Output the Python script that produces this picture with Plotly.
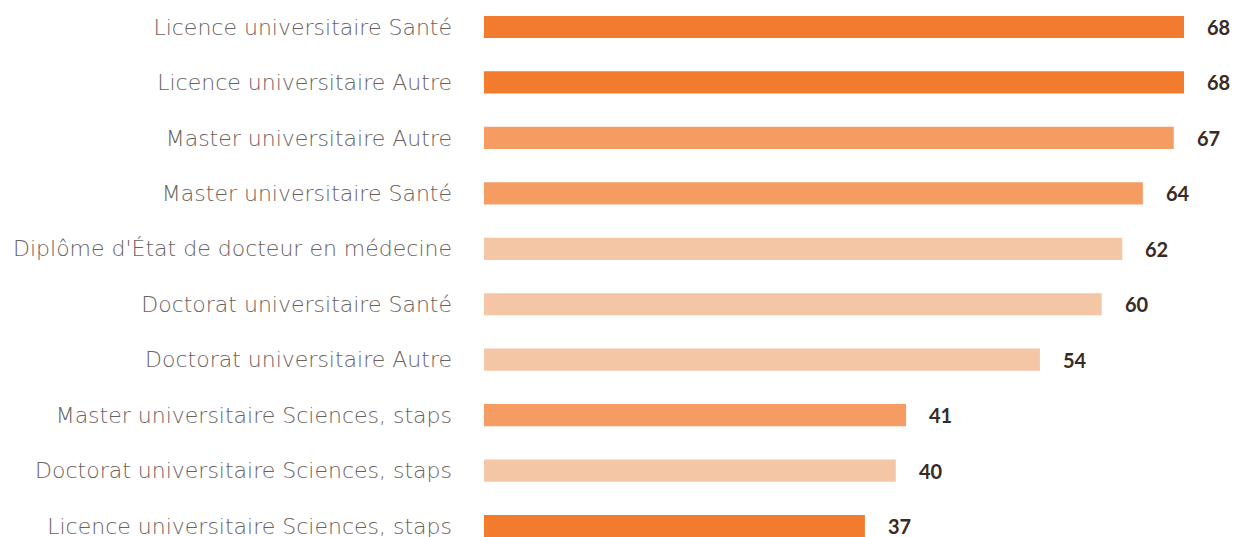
import plotly.graph_objects as go

categories = [
    "Licence universitaire Santé",
    "Licence universitaire Autre",
    "Master universitaire Autre",
    "Master universitaire Santé",
    "Diplôme d'État de docteur en médecine",
    "Doctorat universitaire Santé",
    "Doctorat universitaire Autre",
    "Master universitaire Sciences, staps",
    "Doctorat universitaire Sciences, staps",
    "Licence universitaire Sciences, staps",
]
values = [68, 68, 67, 64, 62, 60, 54, 41, 40, 37]

# style mapping by degree level
level_colors = {"Licence": "#F27B2E", "Master": "#F59C63", "Other": "#F5C6A5"}

def color_for(cat):
    for k in ("Licence", "Master"):
        if cat.startswith(k):
            return level_colors[k]
    return level_colors["Other"]

colors = [color_for(c) for c in categories]

fig = go.Figure()
fig.add_trace(go.Bar(
    x=values,
    y=categories,
    orientation="h",
    marker=dict(color=colors, line=dict(width=0)),
    width=0.4,
    hoverinfo="x+y",
))

for c, v in zip(categories, values):
    fig.add_annotation(
        x=v, y=c, xref="x", yref="y",
        text=str(v), showarrow=False,
        xanchor="left", xshift=21,
        font=dict(family="Lato", size=20, color="#3A2A25", weight="bold"),
    )

fig.update_layout(
    width=1235, height=537,
    margin=dict(l=484, r=0, t=0, b=0, autoexpand=False),
    plot_bgcolor="white", paper_bgcolor="white",
    showlegend=False,
    bargap=0.6,
)
fig.update_xaxes(range=[0, 72.95], visible=False, showgrid=False, zeroline=False)
fig.update_yaxes(
    categoryorder="array", categoryarray=categories,
    range=[9.198, -0.487],
    showgrid=False, zeroline=False, showline=False,
    ticks="", ticklabelstandoff=31, automargin=False,
    tickfont=dict(family="DejaVu Sans", size=22, color="#6A6260", weight=200),
)

fig.write_html(
    "out.html",
    config={"displayModeBar": False},
    post_script="document.body.style.margin='0';document.body.style.overflow='hidden';",
)
